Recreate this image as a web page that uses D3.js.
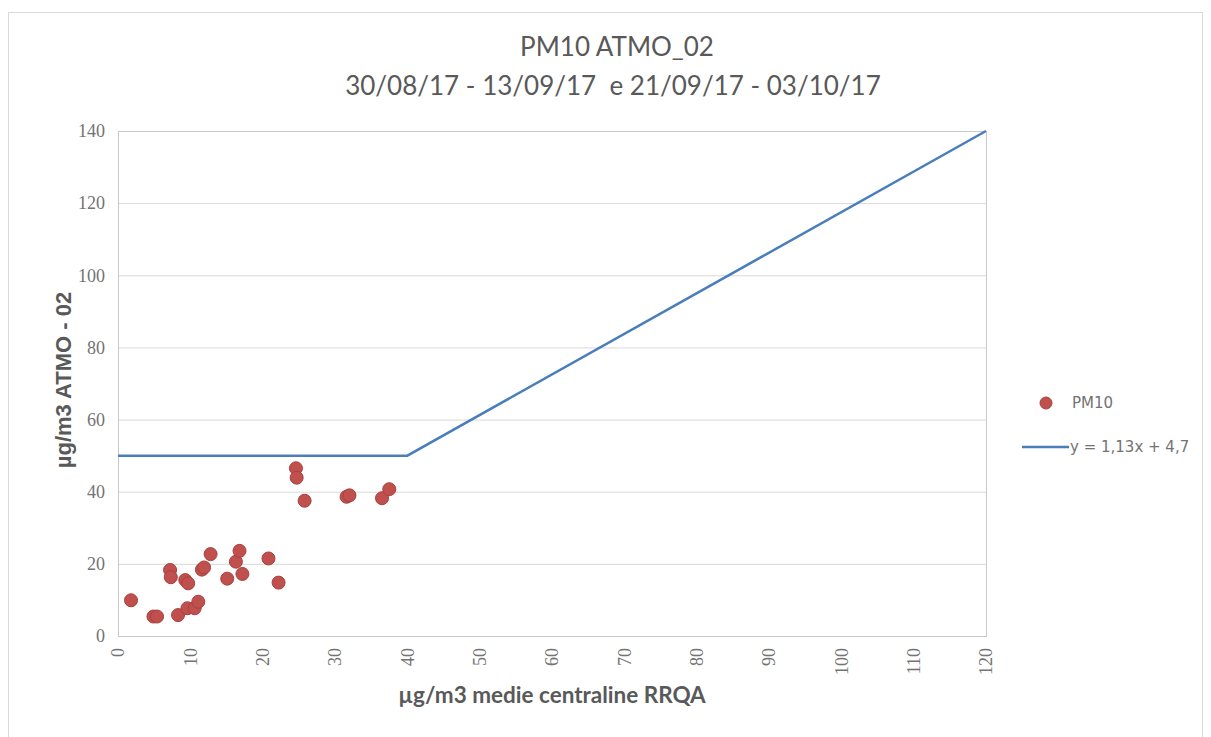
<!DOCTYPE html>
<html><head><meta charset="utf-8">
<script src="https://cdn.jsdelivr.net/npm/d3@7"></script>
<style>body{margin:0;background:#fff}</style>
</head><body>
<svg id="c" width="1211" height="737"></svg>
<script>
const titleLines = ["PM10 ATMO_02", "30/08/17 - 13/09/17  e 21/09/17 - 03/10/17"];
const xLabel = "µg/m3 medie centraline RRQA";
const yLabel = "µg/m3 ATMO - 02";
const pmX = [1.8, 4.9, 5.4, 8.3, 7.2, 7.3, 9.3, 9.7, 9.6, 10.6, 11.1, 11.6, 11.9, 12.8, 15.1, 16.3, 16.8, 17.2, 20.8, 22.2, 24.6, 24.7, 25.8, 31.6, 32.0, 36.5, 37.5];
const pmY = [9.9, 5.4, 5.4, 5.8, 18.3, 16.3, 15.5, 14.6, 7.7, 7.7, 9.5, 18.4, 19.0, 22.7, 15.9, 20.6, 23.6, 17.2, 21.5, 14.8, 46.5, 43.9, 37.5, 38.6, 39.0, 38.2, 40.7];
const lineX = [0, 40, 120];
const lineY = [50, 50, 140];
const xTicks = [0,10,20,30,40,50,60,70,80,90,100,110,120];
const yTicks = [0,20,40,60,80,100,120,140];
const legendNames = ["PM10", "y = 1,13x + 4,7"];

const svg = d3.select("#c");
const m = {l:118, r:986, t:131, b:636};
const x = d3.scaleLinear().domain([0,120]).range([m.l, m.r]);
const y = d3.scaleLinear().domain([0,140]).range([m.b, m.t]);
const gray = "#595959";
const tickGray = "#737373";
const tickFont = "'Liberation Serif', 'DejaVu Serif', serif";
const legFont = "'DejaVu Sans', sans-serif";

// outer chart border
svg.append("rect").attr("x",8.5).attr("y",12.5).attr("width",1194).attr("height",740)
  .attr("fill","none").attr("stroke","#d9d9d9");

// gridlines
svg.append("g").selectAll("line").data(yTicks).join("line")
  .attr("x1",m.l).attr("x2",m.r).attr("y1",d=>y(d)+0.5).attr("y2",d=>y(d)+0.5)
  .attr("stroke","#d9d9d9").attr("stroke-width",1);
// plot border
svg.append("rect").attr("x",m.l+0.5).attr("y",m.t+0.5).attr("width",m.r-m.l).attr("height",m.b-m.t)
  .attr("fill","none").attr("stroke","#c8c8c8");

// y axis
const ya = svg.append("g").attr("transform",`translate(${m.l},0)`)
  .call(d3.axisLeft(y).tickValues(yTicks).tickSize(0).tickPadding(13));
ya.select(".domain").remove();
ya.selectAll("text").attr("fill",tickGray).style("font-family",tickFont).style("font-size","18px");

// x axis
const xa = svg.append("g").attr("transform",`translate(0,${m.b})`)
  .call(d3.axisBottom(x).tickValues(xTicks).tickSize(0));
xa.select(".domain").remove();
xa.selectAll("text").attr("fill",tickGray).style("font-family",tickFont).style("font-size","18px")
  .attr("transform","rotate(-90)").attr("text-anchor","end").attr("x",-12).attr("y",0).attr("dy","0.33em");

// line
const pts = lineX.map((d,i)=>[d,lineY[i]]);
svg.append("path").datum(pts)
  .attr("d",d3.line().x(d=>x(d[0])).y(d=>y(d[1])))
  .attr("fill","none").attr("stroke","#4a7ebb").attr("stroke-width",2.5);

// points
const data = pmX.map((d,i)=>({x:d,y:pmY[i]}));
svg.append("g").selectAll("circle").data(data).join("circle")
  .attr("cx",d=>x(d.x)).attr("cy",d=>y(d.y)).attr("r",6.5)
  .attr("fill","#c0504d").attr("stroke","#a9403d").attr("stroke-width",1);

// titles
const tf = "Lato, 'Open Sans', sans-serif";
svg.append("text").attr("x",617).attr("y",56).attr("text-anchor","middle")
  .attr("fill",gray).style("font-family",tf).style("font-size","26px").text(titleLines[0]);
svg.append("text").attr("x",613).attr("y",95).attr("text-anchor","middle").attr("xml:space","preserve")
  .style("white-space","pre")
  .attr("fill",gray).style("font-family",tf).style("font-size","26px").text(titleLines[1]);

svg.append("text").attr("x",552).attr("y",703).attr("text-anchor","middle")
  .attr("fill",gray).style("font-family",tf).style("font-size","22.5px").style("font-weight","bold").text(xLabel);

svg.append("text").attr("transform","translate(71,380) rotate(-90)").attr("text-anchor","middle")
  .attr("fill",gray).style("font-family","'Liberation Sans', Arial, sans-serif").style("font-size","22px").style("font-weight","bold").text(yLabel);

// legend
const lg = svg.append("g");
lg.append("circle").attr("cx",1046).attr("cy",403).attr("r",6).attr("fill","#c0504d").attr("stroke","#a9403d");
lg.append("text").attr("x",1072).attr("y",403).attr("dy","0.36em").attr("fill",tickGray)
  .style("font-family",legFont).style("font-size","15px").text(legendNames[0]);
lg.append("line").attr("x1",1022).attr("x2",1069).attr("y1",447).attr("y2",447).attr("stroke","#4a7ebb").attr("stroke-width",2.5);
lg.append("text").attr("x",1070).attr("y",447).attr("dy","0.36em").attr("fill",tickGray)
  .style("font-family",legFont).style("font-size","15px").text(legendNames[1]);
</script>
</body></html>
